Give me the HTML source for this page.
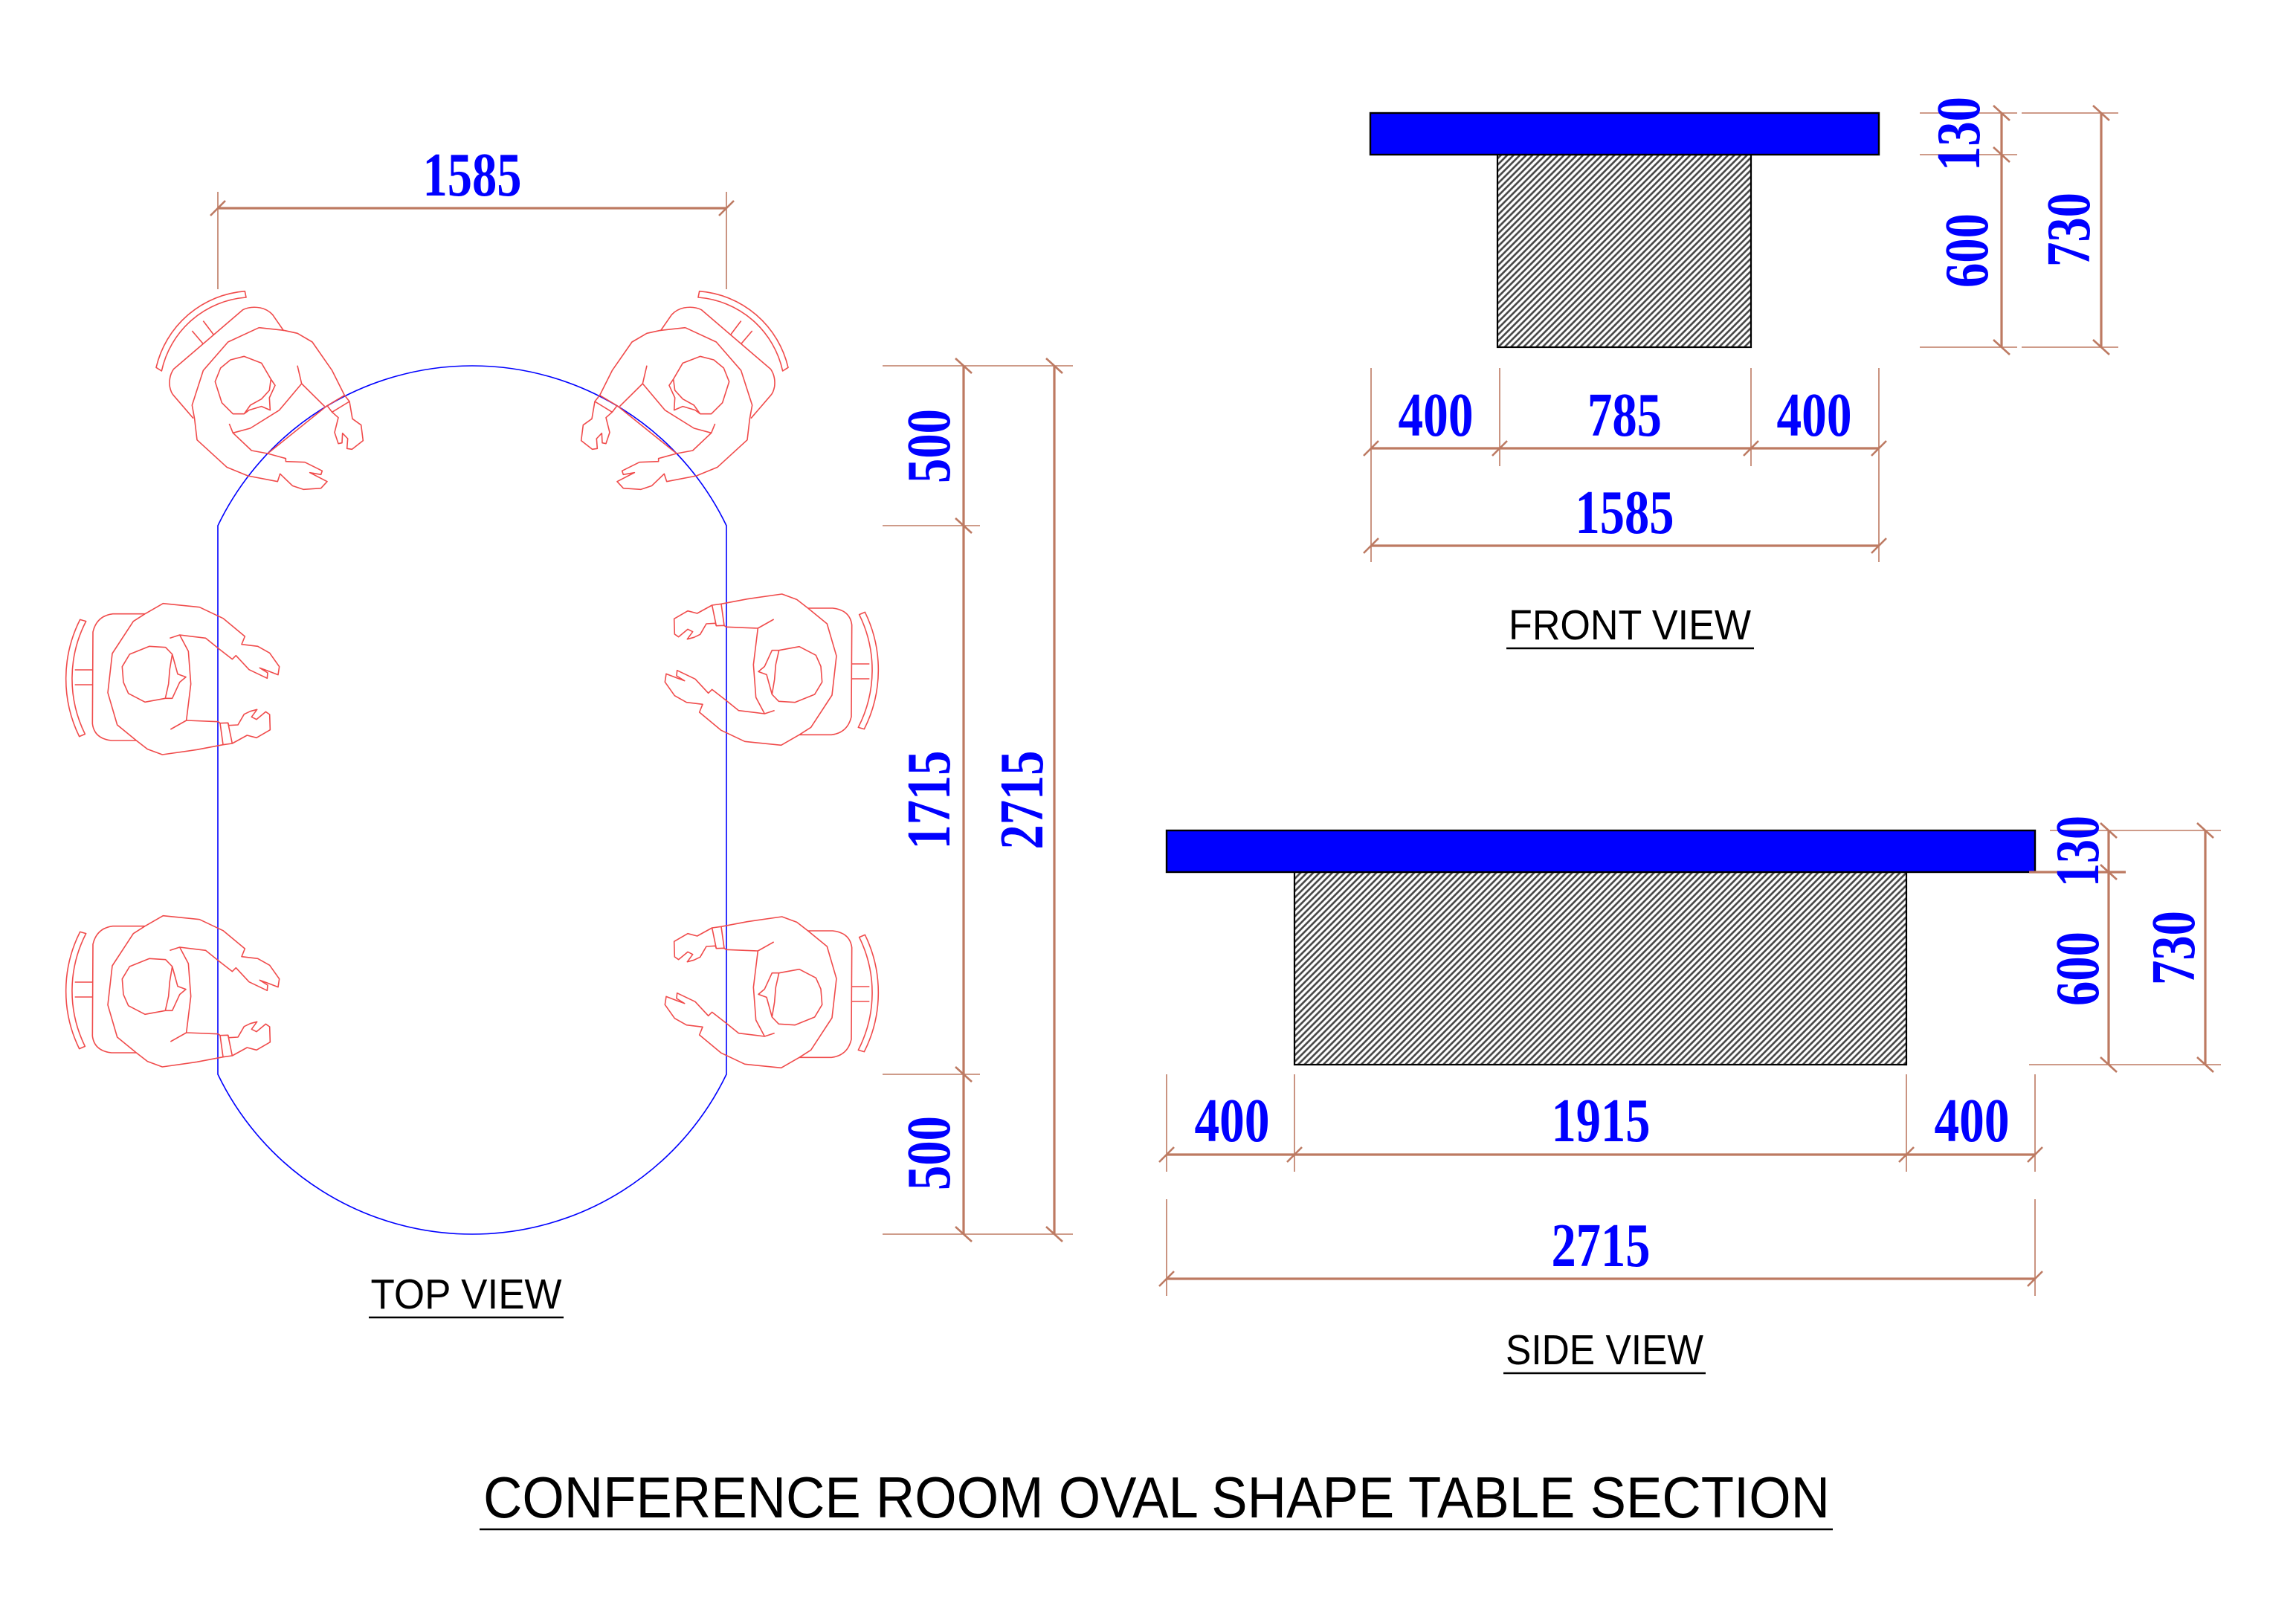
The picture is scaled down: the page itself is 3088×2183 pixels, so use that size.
<!DOCTYPE html>
<html>
<head>
<meta charset="utf-8">
<style>
html,body{margin:0;padding:0;background:#fff;}
svg{display:block;}
.dim{font-family:"Liberation Serif","DejaVu Serif",serif;font-weight:bold;font-size:84px;fill:#0000FF;}
.lbl{font-family:"Liberation Sans","DejaVu Sans",sans-serif;font-size:57px;fill:#000;}
.ttl{font-family:"Liberation Sans","DejaVu Sans",sans-serif;font-size:78px;fill:#000;}
.ext{stroke:#BD7A62;stroke-width:1.6;fill:none;}
.dl{stroke:#BD7A62;stroke-width:3.2;fill:none;}
.tk{stroke:#BD7A62;stroke-width:2.6;fill:none;}
.fig{stroke:#F04B4B;stroke-width:1.6;fill:none;stroke-linejoin:round;}
</style>
</head>
<body>
<svg width="3088" height="2183" viewBox="0 0 3088 2183" xmlns="http://www.w3.org/2000/svg">
<defs>
<pattern id="h" patternUnits="userSpaceOnUse" width="6" height="6" patternTransform="rotate(45)">
<rect width="6" height="6" fill="#fff"/>
<line x1="3" y1="0" x2="3" y2="6" stroke="#444" stroke-width="2.6"/>
</pattern>
<g id="figA">
<path vector-effect="non-scaling-stroke" d="M30,313 A400,400 0 0 1 388,5 L393,30 A378,378 0 0 0 52,327 Z"/>
<path vector-effect="non-scaling-stroke" d="M175,165 L220,218 M220,125 L263,182"/>
<path vector-effect="non-scaling-stroke" d="M100,320 L380,80 Q410,65 450,72 Q480,78 500,100 L545,165 M100,320 Q80,350 85,390 Q90,415 100,425 L180,518"/>
<path vector-effect="non-scaling-stroke" d="M445,152 L545,163 L600,175 L660,210 L740,325 L790,425 M445,152 L320,210 L220,325 L175,465 L185,520 L195,605 L315,715 L400,750 L520,773 L530,742 L580,790 L625,805 L695,800 L720,773 L650,737 L695,745 L700,730 L630,695 L553,692 L553,680 L480,660 L415,648 L340,577 L325,540"/>
<path vector-effect="non-scaling-stroke" d="M600,305 L617,378 L710,470 M617,378 L527,485 L410,558 L340,577"/>
<path vector-effect="non-scaling-stroke" d="M720,467 L790,425 L810,450 L740,493 Z M740,493 L765,515 L750,575 L765,620 L780,617 L782,578 L803,600 L800,640 L820,643 L865,608 L857,545 L822,520 L810,450"/>
<path vector-effect="non-scaling-stroke" d="M480,660 L720,467"/>
<path vector-effect="non-scaling-stroke" d="M340,500 L295,455 L268,370 L290,315 L330,282 L385,268 L455,295 L493,360 L510,385 L487,435 L490,485 L455,470 L405,485 L385,500 Z M385,500 L410,465 L455,440 L487,405 L493,360"/>
</g>
<g id="figB">
<path vector-effect="non-scaling-stroke" d="M83,100 A530,530 0 0 0 80,572 L103,562 A505,505 0 0 1 107,107 Z"/>
<path vector-effect="non-scaling-stroke" d="M62,303 L133,303 M62,363 L133,363"/>
<path vector-effect="non-scaling-stroke" d="M345,77 L215,77 Q150,85 135,150 L133,520 Q140,580 210,588 L310,588"/>
<path vector-effect="non-scaling-stroke" d="M345,77 L418,35 L565,50 L660,95 L748,168 L735,200 L800,208 L848,235 L887,290 L882,323 L835,305 L808,295 L840,315 L838,337 L765,302 L712,245 L697,260 L643,218 L590,175 L485,162 L445,175"/>
<path vector-effect="non-scaling-stroke" d="M485,162 L520,228 L530,360 L512,507 L640,512 M448,543 L512,507"/>
<path vector-effect="non-scaling-stroke" d="M310,588 L355,623 L415,645 L555,625 L660,605 L697,600 L757,567 L795,577 L850,545 L848,483 L832,472 L795,503 L775,493 L797,463 L770,470 L745,482 L720,525 L683,527 L680,517 L648,518 L640,512"/>
<path vector-effect="non-scaling-stroke" d="M648,518 L660,605 M680,517 L697,600"/>
<path vector-effect="non-scaling-stroke" d="M345,77 L298,107 L213,237 L195,395 L233,525 L310,588"/>
<path vector-effect="non-scaling-stroke" d="M345,433 L278,398 L258,353 L253,290 L283,240 L362,208 L428,212 L455,240 L445,300 L440,360 L427,418 Z M455,240 L477,320 L510,332 L485,353 L455,418 L427,418"/>
</g>
</defs>

<rect width="3088" height="2183" fill="#fff"/>

<!-- ============ TOP VIEW ============ -->
<path d="M293,707 L293,1445 A379.5,379.5 0 0 0 977,1445 L977,707 A379.5,379.5 0 0 0 293,707 Z" fill="none" stroke="#0000FF" stroke-width="1.6"/>

<g class="fig">
  <g transform="translate(200,390) scale(0.333333)"><use href="#figA"/></g>
  <g transform="translate(80,800) scale(0.333333)"><use href="#figB"/></g>
  <g transform="translate(80,1220) scale(0.333333)"><use href="#figB"/></g>
  <g transform="translate(1270,0) scale(-1,1)">
    <g transform="translate(200,390) scale(0.333333)"><use href="#figA"/></g>
  </g>
  <g transform="translate(1270,1814) scale(-1,-1)">
    <g transform="translate(80,800) scale(0.333333)"><use href="#figB"/></g>
  </g>
  <g transform="translate(1270,2668) scale(-1,-1)">
    <g transform="translate(80,1220) scale(0.333333)"><use href="#figB"/></g>
  </g>
</g>

<!-- 1585 top dim -->
<line class="ext" x1="293" y1="258" x2="293" y2="389"/>
<line class="ext" x1="977" y1="258" x2="977" y2="389"/>
<line class="dl" x1="293" y1="280" x2="977" y2="280"/>
<line class="tk" x1="283" y1="290" x2="303" y2="270"/>
<line class="tk" x1="967" y1="290" x2="987" y2="270"/>
<text class="dim" x="635" y="263" text-anchor="middle" textLength="133" lengthAdjust="spacingAndGlyphs">1585</text>

<!-- right dims top view -->
<line class="ext" x1="1187" y1="492" x2="1443" y2="492"/>
<line class="ext" x1="1187" y1="707" x2="1318" y2="707"/>
<line class="ext" x1="1187" y1="1445" x2="1318" y2="1445"/>
<line class="ext" x1="1187" y1="1660" x2="1443" y2="1660"/>
<line class="dl" x1="1296" y1="492" x2="1296" y2="1660"/>
<line class="dl" x1="1418" y1="492" x2="1418" y2="1660"/>
<line class="tk" x1="1285" y1="482" x2="1307" y2="502"/>
<line class="tk" x1="1285" y1="697" x2="1307" y2="717"/>
<line class="tk" x1="1285" y1="1435" x2="1307" y2="1455"/>
<line class="tk" x1="1285" y1="1650" x2="1307" y2="1670"/>
<line class="tk" x1="1407" y1="482" x2="1429" y2="502"/>
<line class="tk" x1="1407" y1="1650" x2="1429" y2="1670"/>
<text class="dim" transform="translate(1277,600) rotate(-90)" text-anchor="middle" textLength="100" lengthAdjust="spacingAndGlyphs">500</text>
<text class="dim" transform="translate(1277,1076) rotate(-90)" text-anchor="middle" textLength="133" lengthAdjust="spacingAndGlyphs">1715</text>
<text class="dim" transform="translate(1402,1076) rotate(-90)" text-anchor="middle" textLength="133" lengthAdjust="spacingAndGlyphs">2715</text>
<text class="dim" transform="translate(1277,1551) rotate(-90)" text-anchor="middle" textLength="100" lengthAdjust="spacingAndGlyphs">500</text>

<text class="lbl" x="627" y="1760" text-anchor="middle" textLength="257" lengthAdjust="spacingAndGlyphs">TOP VIEW</text>
<line x1="496" y1="1772" x2="758" y2="1772" stroke="#000" stroke-width="2.6"/>

<!-- ============ FRONT VIEW ============ -->
<rect x="2014" y="208" width="341" height="259" fill="url(#h)" stroke="#000" stroke-width="2.2"/>
<rect x="1843" y="152" width="684" height="56" fill="#0000FF" stroke="#000" stroke-width="2.4"/>

<line class="ext" x1="2017" y1="495" x2="2017" y2="627"/>
<line class="ext" x1="2355" y1="495" x2="2355" y2="627"/>
<line class="ext" x1="1844" y1="495" x2="1844" y2="756"/>
<line class="ext" x1="2527" y1="495" x2="2527" y2="756"/>
<line class="dl" x1="1844" y1="603" x2="2527" y2="603"/>
<line class="dl" x1="1844" y1="734" x2="2527" y2="734"/>
<line class="tk" x1="1834" y1="613" x2="1854" y2="593"/>
<line class="tk" x1="2007" y1="613" x2="2027" y2="593"/>
<line class="tk" x1="2345" y1="613" x2="2365" y2="593"/>
<line class="tk" x1="2517" y1="613" x2="2537" y2="593"/>
<line class="tk" x1="1834" y1="744" x2="1854" y2="724"/>
<line class="tk" x1="2517" y1="744" x2="2537" y2="724"/>
<text class="dim" x="1931" y="586" text-anchor="middle" textLength="101" lengthAdjust="spacingAndGlyphs">400</text>
<text class="dim" x="2185" y="586" text-anchor="middle" textLength="100" lengthAdjust="spacingAndGlyphs">785</text>
<text class="dim" x="2440" y="586" text-anchor="middle" textLength="101" lengthAdjust="spacingAndGlyphs">400</text>
<text class="dim" x="2185" y="717" text-anchor="middle" textLength="133" lengthAdjust="spacingAndGlyphs">1585</text>

<line class="ext" x1="2582" y1="152" x2="2713" y2="152"/>
<line class="ext" x1="2719" y1="152" x2="2849" y2="152"/>
<line class="ext" x1="2582" y1="208" x2="2713" y2="208"/>
<line class="ext" x1="2582" y1="467" x2="2713" y2="467"/>
<line class="ext" x1="2719" y1="467" x2="2849" y2="467"/>
<line class="dl" x1="2692" y1="152" x2="2692" y2="467"/>
<line class="dl" x1="2826" y1="152" x2="2826" y2="467"/>
<line class="tk" x1="2681" y1="142" x2="2703" y2="162"/>
<line class="tk" x1="2681" y1="198" x2="2703" y2="218"/>
<line class="tk" x1="2681" y1="457" x2="2703" y2="477"/>
<line class="tk" x1="2815" y1="142" x2="2837" y2="162"/>
<line class="tk" x1="2815" y1="457" x2="2837" y2="477"/>
<text class="dim" transform="translate(2662,180) rotate(-90)" text-anchor="middle" textLength="100" lengthAdjust="spacingAndGlyphs">130</text>
<text class="dim" transform="translate(2673,337) rotate(-90)" text-anchor="middle" textLength="100" lengthAdjust="spacingAndGlyphs">600</text>
<text class="dim" transform="translate(2810,309) rotate(-90)" text-anchor="middle" textLength="100" lengthAdjust="spacingAndGlyphs">730</text>

<text class="lbl" x="2192" y="860" text-anchor="middle" textLength="326" lengthAdjust="spacingAndGlyphs">FRONT VIEW</text>
<line x1="2026" y1="872" x2="2359" y2="872" stroke="#000" stroke-width="2.6"/>

<!-- ============ SIDE VIEW ============ -->
<rect x="1741" y="1173" width="823" height="259" fill="url(#h)" stroke="#000" stroke-width="2.2"/>
<rect x="1569" y="1117" width="1168" height="56" fill="#0000FF" stroke="#000" stroke-width="2.4"/>

<line class="ext" x1="1569" y1="1445" x2="1569" y2="1576"/>
<line class="ext" x1="1741" y1="1445" x2="1741" y2="1576"/>
<line class="ext" x1="2564" y1="1445" x2="2564" y2="1576"/>
<line class="ext" x1="2737" y1="1445" x2="2737" y2="1576"/>
<line class="ext" x1="1569" y1="1613" x2="1569" y2="1743"/>
<line class="ext" x1="2737" y1="1613" x2="2737" y2="1743"/>
<line class="dl" x1="1569" y1="1553" x2="2737" y2="1553"/>
<line class="dl" x1="1569" y1="1720" x2="2737" y2="1720"/>
<line class="tk" x1="1559" y1="1563" x2="1579" y2="1543"/>
<line class="tk" x1="1731" y1="1563" x2="1751" y2="1543"/>
<line class="tk" x1="2554" y1="1563" x2="2574" y2="1543"/>
<line class="tk" x1="2727" y1="1563" x2="2747" y2="1543"/>
<line class="tk" x1="1559" y1="1730" x2="1579" y2="1710"/>
<line class="tk" x1="2727" y1="1730" x2="2747" y2="1710"/>
<text class="dim" x="1657" y="1535" text-anchor="middle" textLength="101" lengthAdjust="spacingAndGlyphs">400</text>
<text class="dim" x="2153" y="1535" text-anchor="middle" textLength="133" lengthAdjust="spacingAndGlyphs">1915</text>
<text class="dim" x="2652" y="1535" text-anchor="middle" textLength="101" lengthAdjust="spacingAndGlyphs">400</text>
<text class="dim" x="2153" y="1703" text-anchor="middle" textLength="133" lengthAdjust="spacingAndGlyphs">2715</text>

<line class="ext" x1="2757" y1="1117" x2="2987" y2="1117"/>
<line class="dl" x1="2729" y1="1173" x2="2859" y2="1173"/>
<line class="ext" x1="2729" y1="1432" x2="2987" y2="1432"/>
<line class="dl" x1="2836" y1="1117" x2="2836" y2="1432"/>
<line class="dl" x1="2966" y1="1117" x2="2966" y2="1432"/>
<line class="tk" x1="2825" y1="1107" x2="2847" y2="1127"/>
<line class="tk" x1="2825" y1="1163" x2="2847" y2="1183"/>
<line class="tk" x1="2825" y1="1422" x2="2847" y2="1442"/>
<line class="tk" x1="2955" y1="1107" x2="2977" y2="1127"/>
<line class="tk" x1="2955" y1="1422" x2="2977" y2="1442"/>
<text class="dim" transform="translate(2822,1145) rotate(-90)" text-anchor="middle" textLength="96" lengthAdjust="spacingAndGlyphs">130</text>
<text class="dim" transform="translate(2822,1303) rotate(-90)" text-anchor="middle" textLength="100" lengthAdjust="spacingAndGlyphs">600</text>
<text class="dim" transform="translate(2951,1275) rotate(-90)" text-anchor="middle" textLength="100" lengthAdjust="spacingAndGlyphs">730</text>

<text class="lbl" x="2158" y="1835" text-anchor="middle" textLength="266" lengthAdjust="spacingAndGlyphs">SIDE VIEW</text>
<line x1="2022" y1="1847" x2="2294" y2="1847" stroke="#000" stroke-width="2.6"/>

<!-- ============ TITLE ============ -->
<text class="ttl" x="1555.5" y="2041" text-anchor="middle" textLength="1811" lengthAdjust="spacingAndGlyphs">CONFERENCE ROOM OVAL SHAPE TABLE SECTION</text>
<line x1="645" y1="2057" x2="2465" y2="2057" stroke="#000" stroke-width="2.4"/>
</svg>
</body>
</html>
